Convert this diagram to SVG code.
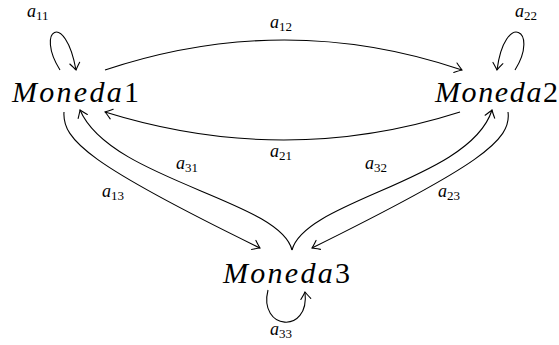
<svg xmlns="http://www.w3.org/2000/svg" width="559" height="345" viewBox="0 0 559 345">
<style>
.node{font-family:"Liberation Serif","DejaVu Serif",serif;font-size:30px;fill:#000}
.lab{font-family:"Liberation Serif","DejaVu Serif",serif;font-size:18px;font-style:italic;fill:#000}
.sub{font-style:normal;font-size:13px}
.edge{fill:none;stroke:#000;stroke-width:1.1;marker-end:url(#to)}
</style>
<defs>
<marker id="to" markerUnits="userSpaceOnUse" markerWidth="14" markerHeight="14" viewBox="-8 -7 10 14" refX="0" refY="0" orient="auto">
<path d="M -7 -5 Q -2 -1.2 0 0 Q -2 1.2 -7 5" fill="none" stroke="#000" stroke-width="1.1" stroke-linecap="round"/>
</marker>
</defs>
<g id="connectors">
<path class="edge" d="M 105 70 Q 285 10 462 70"/>
<path class="edge" d="M 460 112 Q 285 168 105 112"/>
<path class="edge" d="M 64 112 C 62 140, 90 165, 260 248"/>
<path class="edge" d="M 292 250 C 280 200, 110 180, 80 110"/>
<path class="edge" d="M 292 250 C 305 200, 470 180, 492 110"/>
<path class="edge" d="M 508 112 C 512 140, 480 165, 312 248"/>
<path class="edge" d="M 60 70 C 35 30, 65 10, 76 70"/>
<path class="edge" d="M 515 70 C 540 30, 505 10, 497 70"/>
<path class="edge" d="M 268 290 C 258 330, 310 335, 305 292"/>
<text class="lab" x="27" y="17">a<tspan class="sub" dy="3">11</tspan></text>
<text class="lab" x="270" y="28">a<tspan class="sub" dy="3">12</tspan></text>
<text class="lab" x="515" y="17">a<tspan class="sub" dy="3">22</tspan></text>
<text class="lab" x="270" y="157">a<tspan class="sub" dy="3">21</tspan></text>
<text class="lab" x="102" y="197">a<tspan class="sub" dy="3">13</tspan></text>
<text class="lab" x="176" y="169">a<tspan class="sub" dy="3">31</tspan></text>
<text class="lab" x="365" y="169">a<tspan class="sub" dy="3">32</tspan></text>
<text class="lab" x="438" y="197">a<tspan class="sub" dy="3">23</tspan></text>
<text class="lab" x="270" y="335">a<tspan class="sub" dy="3">33</tspan></text>
</g>
<g id="moneda1"><text class="node" x="12" y="102" textLength="127" lengthAdjust="spacing"><tspan font-style="italic">Moneda</tspan>1</text></g>
<g id="moneda2"><text class="node" x="435" y="102" textLength="123" lengthAdjust="spacing"><tspan font-style="italic">Moneda</tspan>2</text></g>
<g id="moneda3"><text class="node" x="223" y="283" textLength="127" lengthAdjust="spacing"><tspan font-style="italic">Moneda</tspan>3</text></g>
</svg>
